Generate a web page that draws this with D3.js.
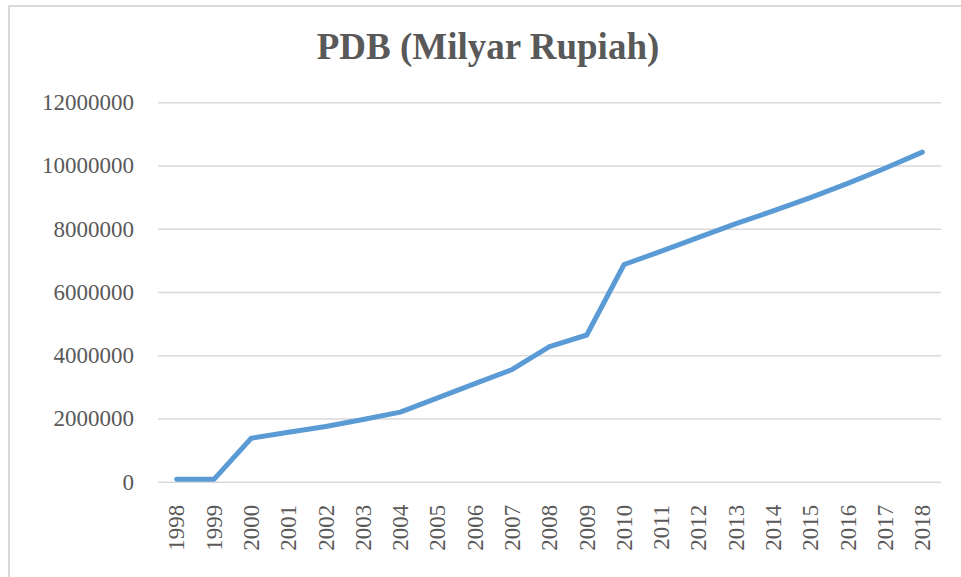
<!DOCTYPE html>
<html>
<head>
<meta charset="utf-8">
<script src="https://cdn.jsdelivr.net/npm/d3@7"></script>
<style>
  body { margin: 0; background: #fff; }
  text { font-family: "Liberation Serif", "Times New Roman", serif; fill: #595959; }
</style>
</head>
<body>
<svg id="mainsvg" width="961" height="577"></svg>
<script>
// data
const years = ['1998','1999','2000','2001','2002','2003','2004','2005','2006','2007','2008',
  '2009','2010','2011','2012','2013','2014','2015','2016','2017','2018']
const pdb = [80000, 75000, 1375000, 1565000, 1745000, 1965000, 2200000, 2650000, 3100000, 3550000, 4270000,
  4640000, 6870000, 7290000, 7730000, 8160000, 8565000, 8985000, 9435000, 9915000, 10425000]
const yTicks = [0, 2000000, 4000000, 6000000, 8000000, 10000000, 12000000]
const title = 'PDB (Milyar Rupiah)'

const svg = d3.select('#mainsvg')

// chart frame
svg.append('rect')
  .attr('x', 9).attr('y', 6)
  .attr('width', 1000).attr('height', 1000)
  .attr('fill', 'none')
  .attr('stroke', '#d9d9d9')
  .attr('stroke-width', 2)

let plotLeft = 158, plotRight = 941, plotTop = 102.3, plotBottom = 481.7

const x = d3.scaleBand().domain(years).range([plotLeft, plotRight])
const y = d3.scaleLinear().domain([0, 12000000]).range([plotBottom, plotTop])

// gridlines
const yAxis = svg.append('g')
  .attr('transform', `translate(${plotLeft},0)`)
  .call(d3.axisLeft(y).tickValues(yTicks).tickSize(-(plotRight - plotLeft)).tickPadding(24).tickFormat(d3.format('d')))
yAxis.select('.domain').remove()
yAxis.selectAll('line').attr('stroke', '#d9d9d9').attr('stroke-width', 1.5)
yAxis.selectAll('text')
  .style('font-family', '"Liberation Serif", "Times New Roman", serif')
  .style('font-size', '23px')
  .attr('fill', '#595959')

// x labels, rotated
const xAxis = svg.append('g')
  .attr('transform', `translate(0,${plotBottom})`)
  .call(d3.axisBottom(x).tickSize(0).tickPadding(0))
xAxis.select('.domain').remove()
xAxis.selectAll('text')
  .style('font-family', '"Liberation Serif", "Times New Roman", serif')
  .style('font-size', '23px')
  .attr('fill', '#595959')
  .attr('text-anchor', 'end')
  .attr('transform', 'rotate(-90)')
  .attr('x', -23)
  .attr('y', 0)
  .attr('dy', '0.34em')

// line
const line = d3.line()
  .x((d, i) => x(years[i]) + x.bandwidth() / 2)
  .y(d => y(d))
svg.append('path')
  .datum(pdb)
  .attr('d', line)
  .attr('fill', 'none')
  .attr('stroke', '#5b9bd5')
  .attr('stroke-width', 5)
  .attr('stroke-linecap', 'round')
  .attr('stroke-linejoin', 'round')

// title
svg.append('text')
  .attr('x', 488)
  .attr('y', 59)
  .attr('text-anchor', 'middle')
  .style('font-size', '37px')
  .style('font-weight', 'bold')
  .text(title)
</script>
</body>
</html>
